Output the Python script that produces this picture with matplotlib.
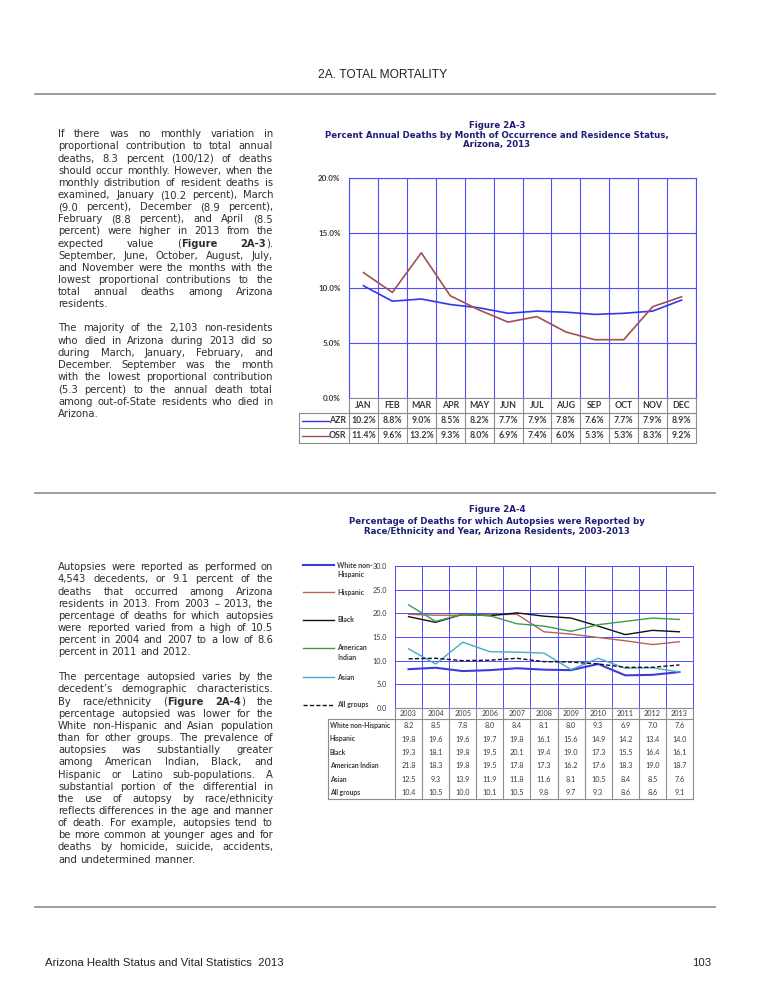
import numpy as np
import matplotlib
matplotlib.use("Agg")
import matplotlib.pyplot as plt
from matplotlib.lines import Line2D
from matplotlib.transforms import blended_transform_factory

W, H = 765, 989

# ---------------- data ----------------
months = ["JAN", "FEB", "MAR", "APR", "MAY", "JUN", "JUL", "AUG", "SEP", "OCT", "NOV", "DEC"]
azr = [10.2, 8.8, 9.0, 8.5, 8.2, 7.7, 7.9, 7.8, 7.6, 7.7, 7.9, 8.9]
osr = [11.4, 9.6, 13.2, 9.3, 8.0, 6.9, 7.4, 6.0, 5.3, 5.3, 8.3, 9.2]
pct_ticks = [0, 5, 10, 15, 20]

years = ["2003", "2004", "2005", "2006", "2007", "2008", "2009", "2010", "2011", "2012", "2013"]
groups = ["White non-Hispanic", "Hispanic", "Black", "American Indian", "Asian", "All groups"]
legend_labels = ["White non-\nHispanic", "Hispanic", "Black", "American\nIndian", "Asian", "All groups"]
white_nh = [8.2, 8.5, 7.8, 8.0, 8.4, 8.1, 8.0, 9.3, 6.9, 7.0, 7.6]
hispanic = [19.8, 19.6, 19.6, 19.7, 19.8, 16.1, 15.6, 14.9, 14.2, 13.4, 14.0]
black = [19.3, 18.1, 19.8, 19.5, 20.1, 19.4, 19.0, 17.3, 15.5, 16.4, 16.1]
am_indian = [21.8, 18.3, 19.8, 19.5, 17.8, 17.3, 16.2, 17.6, 18.3, 19.0, 18.7]
asian = [12.5, 9.3, 13.9, 11.9, 11.8, 11.6, 8.1, 10.5, 8.4, 8.5, 7.6]
all_groups = [10.4, 10.5, 10.0, 10.1, 10.5, 9.8, 9.7, 9.3, 8.6, 8.6, 9.1]
auto_ticks = [0, 5, 10, 15, 20, 25, 30]

par1 = [
    "If there was no monthly variation in",
    "proportional contribution to total annual",
    "deaths, 8.3 percent (100/12) of deaths",
    "should occur monthly. However, when the",
    "monthly distribution of resident deaths is",
    "examined, January (10.2 percent), March",
    "(9.0 percent), December (8.9 percent),",
    "February (8.8 percent), and April (8.5",
    "percent) were higher in 2013 from the",
    "expected value (*Figure 2A-3*).",
    "September, June, October, August, July,",
    "and November were the months with the",
    "lowest proportional contributions to the",
    "total annual deaths among Arizona",
    "residents.",
]
par2 = [
    "The majority of the 2,103 non-residents",
    "who died in Arizona during 2013 did so",
    "during March, January, February, and",
    "December. September was the month",
    "with the lowest proportional contribution",
    "(5.3 percent) to the annual death total",
    "among out-of-State residents who died in",
    "Arizona.",
]
par3 = [
    "Autopsies were reported as performed on",
    "4,543 decedents, or 9.1 percent of the",
    "deaths that occurred among Arizona",
    "residents in 2013. From 2003 \u2013 2013, the",
    "percentage of deaths for which autopsies",
    "were reported varied from a high of 10.5",
    "percent in 2004 and 2007 to a low of 8.6",
    "percent in 2011 and 2012.",
]
par4 = [
    "The percentage autopsied varies by the",
    "decedent\u2019s demographic characteristics.",
    "By race/ethnicity (*Figure 2A-4*) the",
    "percentage autopsied was lower for the",
    "White non-Hispanic and Asian population",
    "than for other groups. The prevalence of",
    "autopsies was substantially greater",
    "among American Indian, Black, and",
    "Hispanic or Latino sub-populations. A",
    "substantial portion of the differential in",
    "the use of autopsy by race/ethnicity",
    "reflects differences in the age and manner",
    "of death. For example, autopsies tend to",
    "be more common at younger ages and for",
    "deaths by homicide, suicide, accidents,",
    "and undetermined manner.",
]

# ---------------- figure ----------------
fig = plt.figure(figsize=(W / 100, H / 100), dpi=100)
fig.patch.set_facecolor("white")
renderer = fig.canvas.get_renderer()

BODY = "#2e2e2e"
NAVY = "#1e1e78"
GRID = "#4d4dff"
TBL = "#8c8c8c"
TXT = "#3a3a3a"
HEADF = "Liberation Sans"


def fx(px):
    return px / W


def fy(py):
    return 1 - py / H


def hline(y, x0, x1, color="#8a8a8a", lw=1.2):
    fig.add_artist(Line2D([fx(x0), fx(x1)], [fy(y), fy(y)], color=color, lw=lw,
                          transform=fig.transFigure))


def measure(s, size, bold, family="DejaVu Sans"):
    t = fig.text(0, 0, s, fontsize=size, fontweight="bold" if bold else "normal",
                 family=family)
    w = t.get_window_extent(renderer).width
    t.remove()
    return w


def split_line(line, bold):
    wsegs = []
    for wd in line.split(" "):
        segs = []
        parts = wd.split("*")
        for j, p in enumerate(parts):
            if j > 0:
                bold = not bold
            if p:
                segs.append((p, bold))
        wsegs.append(segs)
    return wsegs, bold


def natural_width(lines, size):
    space = measure("a a", size, False) - 2 * measure("a", size, False)
    bold = False
    widest = 0
    for i, line in enumerate(lines):
        wsegs, bold = split_line(line, bold)
        if i == len(lines) - 1:
            continue
        tot = sum(measure(s, size, b) for segs in wsegs for s, b in segs)
        tot += space * (len(wsegs) - 1)
        widest = max(widest, tot)
    return widest


def draw_par(lines, x0, x1, yc0, dy, size):
    bold = False
    space = measure("a a", size, False) - 2 * measure("a", size, False)
    for i, line in enumerate(lines):
        wsegs, bold = split_line(line, bold)
        segw = [[measure(s, size, b) for s, b in segs] for segs in wsegs]
        widths = [sum(ws) for ws in segw]
        last = i == len(lines) - 1
        if last or len(wsegs) == 1:
            gap = space
        else:
            gap = (x1 - x0 - sum(widths)) / (len(wsegs) - 1)
        x = x0
        yb = yc0 + i * dy + 3.3
        for segs, ws, w in zip(wsegs, segw, widths):
            xx = x
            for (s, b), sw in zip(segs, ws):
                fig.text(fx(xx), fy(yb), s, fontsize=size,
                         fontweight="bold" if b else "normal", family="DejaVu Sans",
                         color=BODY, ha="left", va="baseline")
                xx += sw
            x += w + gap


# header / footer (sizes fitted to the widths of the original running heads)
head = "2A. TOTAL MORTALITY"
hsize = 9 * 129 / measure(head, 9, False, HEADF)
fig.text(fx(383), fy(75), head, family=HEADF, fontsize=hsize, color="#222222",
         ha="center", va="center")
hline(94, 35, 715)
hline(493, 35, 715)
hline(907, 35, 715)
foot = "Arizona Health Status and Vital Statistics  2013"
fsize = 9 * 241 / measure(foot, 9, False, HEADF)
fig.text(fx(45), fy(963), foot, family=HEADF, fontsize=fsize, color="#222222",
         ha="left", va="center")
fig.text(fx(711), fy(963), "103", family=HEADF, fontsize=fsize, color="#222222",
         ha="right", va="center")

# body text (font size fitted so the tightest justified line just fills the column)
col_w = 273 - 58
nat = max(natural_width(p, 7.0) for p in [par1, par2, par3, par4])
bsize = 7.0 * (col_w - 1.5) / nat
draw_par(par1, 58, 273, 134, 12.15, bsize)
draw_par(par2, 58, 273, 328, 12.25, bsize)
draw_par(par3, 58, 273, 567, 12.15, bsize)
draw_par(par4, 58, 273, 677, 12.15, bsize)

# titles
TSZ = 6.2
for txt, y in zip(["Figure 2A-3",
                   "Percent Annual Deaths by Month of Occurrence and Residence Status,",
                   "Arizona, 2013"], [126, 135.5, 145]):
    fig.text(fx(497), fy(y), txt, fontsize=TSZ, fontweight="bold", color=NAVY,
             family="DejaVu Sans", ha="center", va="center")
for txt, y in zip(["Figure 2A-4",
                   "Percentage of Deaths for which Autopsies were Reported by",
                   "Race/Ethnicity and Year, Arizona Residents, 2003-2013"], [510, 521, 532]):
    fig.text(fx(497), fy(y), txt, fontsize=TSZ, fontweight="bold", color=NAVY,
             family="DejaVu Sans", ha="center", va="center")

# ---------------- chart 1 ----------------
L1, R1, T1, B1 = 349, 696, 178, 398
ax1 = fig.add_axes([fx(L1), fy(B1), (R1 - L1) / W, (B1 - T1) / H])
n1 = len(months)
x1 = np.arange(n1) + 0.5
c_azr, c_osr = "#3535ee", "#a0504f"
ax1.plot(x1, azr, color=c_azr, lw=1.2, zorder=3, clip_on=False)
ax1.plot(x1, osr, color=c_osr, lw=1.2, zorder=3, clip_on=False)
ax1.set_xlim(0, n1)
ax1.set_ylim(0, 20)
ax1.set_xticks(np.arange(n1 + 1))
ax1.set_xticklabels([])
ax1.set_yticks(pct_ticks)
ax1.set_yticklabels([f"{v:.1f}%" for v in pct_ticks], family="Lato", fontweight="bold",
                    fontsize=5.8, color=TXT)
ax1.tick_params(length=0, pad=6)
ax1.grid(True, color=GRID, lw=0.8)
for s in ["left", "right", "top"]:
    ax1.spines[s].set_color(GRID)
    ax1.spines[s].set_linewidth(0.8)
ax1.spines["bottom"].set_color(TBL)
ax1.spines["bottom"].set_linewidth(0.8)

tr1 = blended_transform_factory(ax1.transData, ax1.transAxes)
ph1 = B1 - T1
cw1 = (R1 - L1) / n1


def ya1(py):
    return (B1 - py) / ph1


def xd1(px):
    return (px - L1) / cw1


rows1 = [398, 413, 428, 443]
ax1.plot([0, n1], [ya1(413)] * 2, transform=tr1, color=TBL, lw=0.8, clip_on=False)
for yy in rows1[1:]:
    ax1.plot([xd1(299), n1], [ya1(yy)] * 2, transform=tr1, color=TBL, lw=0.8, clip_on=False)
for k in range(n1 + 1):
    ax1.plot([k, k], [ya1(398), ya1(443)], transform=tr1, color=TBL, lw=0.8, clip_on=False)
ax1.plot([xd1(299)] * 2, [ya1(413), ya1(443)], transform=tr1, color=TBL, lw=0.8, clip_on=False)
for k, m in enumerate(months):
    ax1.text(k + 0.5, ya1(405.5), m, transform=tr1, ha="center", va="center",
             family="Lato", fontweight="bold", fontsize=6.3, color=TXT)
for name, vals, col, yc in [("AZR", azr, c_azr, 420.5), ("OSR", osr, c_osr, 435.5)]:
    ax1.plot([xd1(302), xd1(329)], [ya1(yc)] * 2, transform=tr1, color=col, lw=1.0,
             clip_on=False)
    ax1.text(xd1(346.5), ya1(yc), name, transform=tr1, ha="right", va="center",
             family="Lato", fontweight="bold", fontsize=6.3, color=TXT)
    for k, v in enumerate(vals):
        ax1.text(k + 0.5, ya1(yc), f"{v:.1f}%", transform=tr1, ha="center", va="center",
                 family="Lato", fontweight="bold", fontsize=6.3, color=TXT)

# ---------------- chart 2 ----------------
L2, R2, T2, B2 = 395, 693, 566, 708
ax2 = fig.add_axes([fx(L2), fy(B2), (R2 - L2) / W, (B2 - T2) / H])
n2 = len(years)
x2 = np.arange(n2) + 0.5
series = [white_nh, hispanic, black, am_indian, asian, all_groups]
colors = ["#3c3cdc", "#b8625c", "#111111", "#3d9a4e", "#4aa8c6", "#111111"]
widths = [1.5, 1.0, 1.0, 1.0, 1.0, 1.0]
styles = ["-", "-", "-", "-", "-", (0, (3, 1.6))]
for vals, c, lw, ls in zip(series, colors, widths, styles):
    ax2.plot(x2, vals, color=c, lw=lw, linestyle=ls, zorder=3)
ax2.set_xlim(0, n2)
ax2.set_ylim(0, 30)
ax2.set_xticks(np.arange(n2 + 1))
ax2.set_xticklabels([])
ax2.set_yticks(auto_ticks)
ax2.set_yticklabels([f"{v:.1f}" for v in auto_ticks], family="Lato", fontsize=5.2,
                    color=TXT)
ax2.tick_params(length=0, pad=6)
ax2.grid(True, color=GRID, lw=0.7)
for s in ["left", "right", "top"]:
    ax2.spines[s].set_color(GRID)
    ax2.spines[s].set_linewidth(0.7)
ax2.spines["bottom"].set_color(TBL)
ax2.spines["bottom"].set_linewidth(0.8)

tr2 = blended_transform_factory(ax2.transData, ax2.transAxes)
ph2 = B2 - T2
cw2 = (R2 - L2) / n2


def ya2(py):
    return (B2 - py) / ph2


def xd2(px):
    return (px - L2) / cw2


TB2 = 799
ax2.plot([0, n2], [ya2(719)] * 2, transform=tr2, color=TBL, lw=0.8, clip_on=False)
ax2.plot([xd2(328), 0], [ya2(719)] * 2, transform=tr2, color=TBL, lw=0.8, clip_on=False)
ax2.plot([xd2(328), n2], [ya2(TB2)] * 2, transform=tr2, color=TBL, lw=0.8, clip_on=False)
for k in range(n2 + 1):
    ax2.plot([k, k], [ya2(708), ya2(TB2)], transform=tr2, color=TBL, lw=0.8, clip_on=False)
ax2.plot([xd2(328)] * 2, [ya2(719), ya2(TB2)], transform=tr2, color=TBL, lw=0.8,
         clip_on=False)
for k, yr in enumerate(years):
    ax2.text(k + 0.5, ya2(713.5), yr, transform=tr2, ha="center", va="center",
             family="Lato", fontsize=5.2, color=TXT)
rh = (TB2 - 719) / len(groups)
for r, (g, vals) in enumerate(zip(groups, series)):
    yc = 719 + rh * (r + 0.5)
    ax2.text(xd2(330), ya2(yc), g, transform=tr2, ha="left", va="center",
             family="Lato", fontweight="bold", fontsize=4.9, color=TXT)
    for k, v in enumerate(vals):
        ax2.text(k + 0.5, ya2(yc), f"{v:.1f}", transform=tr2, ha="center", va="center",
                 family="Lato", fontsize=5.2, color=TXT)

# legend for chart 2 (left side)
leg_y = [565, 592, 620, 648, 677, 705]
for lab, c, lw, ls, yy in zip(legend_labels, colors, widths, styles, leg_y):
    fig.add_artist(Line2D([fx(303), fx(334)], [fy(yy), fy(yy)], color=c, lw=lw,
                          linestyle=ls, transform=fig.transFigure))
    fig.text(fx(337), fy(yy - 3.5), lab, family="Lato", fontweight="bold", fontsize=5.0,
             color=TXT, ha="left", va="top", linespacing=1.35)

fig.savefig("out.png", dpi=100, facecolor="white")
